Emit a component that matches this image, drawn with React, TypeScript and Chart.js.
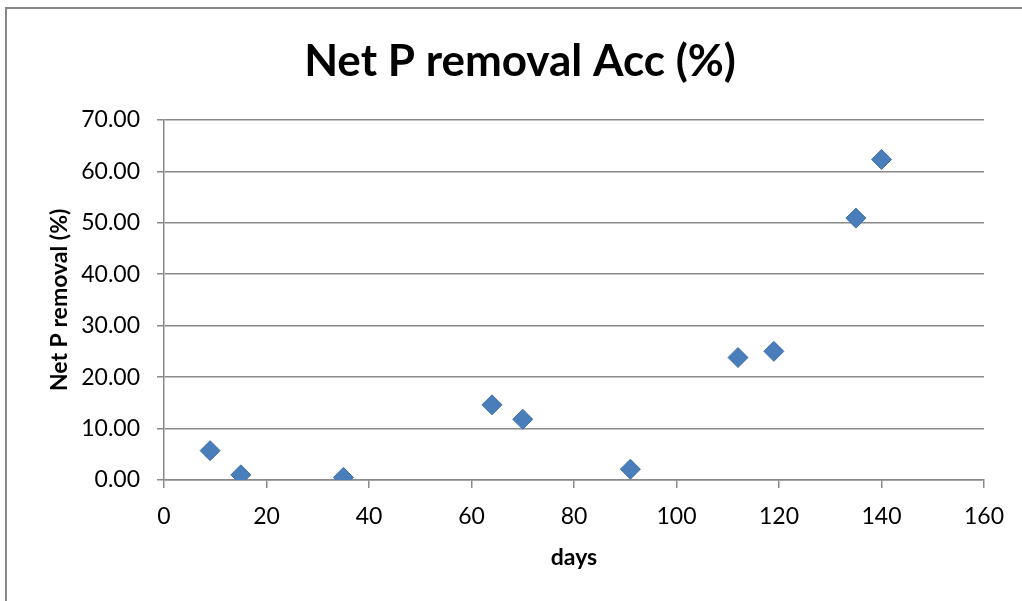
import React, { useEffect, useRef } from "react";
import { Chart, registerables } from "chart.js";

Chart.register(...registerables);

const days: number[] = [9, 15, 35, 64, 70, 91, 112, 119, 135, 140];
const netPRemoval: number[] = [5.7, 1.0, 0.5, 14.6, 11.8, 2.1, 23.8, 25.0, 50.9, 62.3];
const chartTitle = "Net P removal Acc (%)";
const xTitle = "days";
const yTitle = "Net P removal (%)";

const FONT = "Lato, 'Open Sans', sans-serif";
const GRID = "#8a8a8a";

const framePlugin = {
  id: "frame",
  beforeDraw(chart: any) {
    const ctx = chart.ctx;
    ctx.save();
    ctx.fillStyle = "#ffffff";
    ctx.fillRect(0, 0, chart.width, chart.height);
    ctx.strokeStyle = "#878787";
    ctx.lineWidth = 2;
    ctx.strokeRect(6, 8, chart.width + 20, chart.height + 20);
    ctx.restore();
  },
};

export default function App() {
  const ref = useRef<HTMLCanvasElement | null>(null);
  useEffect(() => {
    document.body.style.margin = "0";
    if (!ref.current) return;
    const chart = new Chart(ref.current, {
      type: "scatter",
      data: {
        datasets: [
          {
            data: days.map((d, i) => ({ x: d, y: netPRemoval[i] })),
            pointStyle: "rectRot",
            pointRadius: 10,
            pointHoverRadius: 10,
            backgroundColor: "#4a7ebb",
            borderColor: "#3f71ad",
            borderWidth: 1,
          },
        ],
      },
      options: {
        animation: false,
        responsive: false,
        devicePixelRatio: 1,
        layout: { padding: { left: 18, right: 0, top: 0, bottom: 0 } },
        plugins: {
          legend: { display: false },
          tooltip: { enabled: false },
          title: {
            display: true,
            text: chartTitle,
            color: "#000000",
            font: { family: FONT, size: 44, weight: "bold", lineHeight: 1.2 },
            padding: { top: 35, bottom: 32 },
          },
        },
        scales: {
          x: {
            type: "linear",
            min: 0,
            max: 160,
            ticks: {
              stepSize: 20,
              color: "#000000",
              font: { family: FONT, size: 23 },
              padding: 15,
              maxRotation: 0,
            },
            grid: {
              drawOnChartArea: false,
              drawTicks: true,
              tickLength: 8,
              color: GRID,
              lineWidth: 1.5,
            },
            border: { display: true, color: GRID, width: 1.5 },
            title: {
              display: true,
              text: xTitle,
              color: "#000000",
              font: { family: FONT, size: 23, weight: "bold", lineHeight: 1.2 },
              padding: { top: 0, bottom: 30 },
            },
            afterFit(scale: any) {
              scale.height = 121;
            },
          },
          y: {
            type: "linear",
            min: 0,
            max: 70,
            ticks: {
              stepSize: 10,
              color: "#000000",
              font: { family: FONT, size: 23 },
              padding: 17,
              callback: (v: any) => Number(v).toFixed(2),
            },
            grid: {
              drawTicks: true,
              tickLength: 7,
              color: GRID,
              lineWidth: 1.5,
            },
            border: { display: true, color: GRID, width: 1.5 },
            title: {
              display: true,
              text: yTitle,
              color: "#000000",
              font: { family: FONT, size: 23, weight: "bold", lineHeight: 1.2 },
              padding: { top: 28, bottom: 0 },
            },
            afterFit(scale: any) {
              scale.width = 146;
            },
          },
          y2: {
            type: "linear",
            position: "right",
            display: true,
            ticks: { display: false },
            grid: { display: false },
            border: { display: false },
            afterFit(scale: any) {
              scale.width = 38;
            },
          },
        },
      },
      plugins: [framePlugin],
    });
    return () => chart.destroy();
  }, []);
  return (
    <div style={{ position: "absolute", left: 0, top: 0, width: 1022, height: 601 }}>
      <canvas ref={ref} width={1022} height={601} />
    </div>
  );
}
